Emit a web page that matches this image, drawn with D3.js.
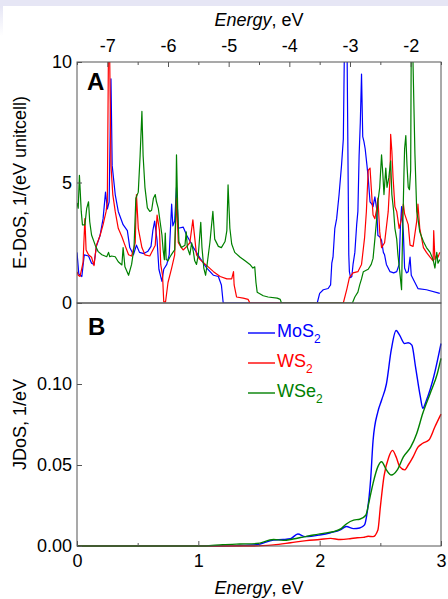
<!DOCTYPE html>
<html>
<head>
<meta charset="utf-8">
<script src="https://cdn.jsdelivr.net/npm/d3@7"></script>
<style>
  body { margin: 0; background: #fff; }
  svg { display: block; font-family: "Liberation Sans", Arial, sans-serif; }
</style>
</head>
<body>
<script>
// Panel A: electron DoS, [energy eV, 1/(eV unitcell)]
let mos2Dos = [
  [-7.5, 2.1], [-7.47, 1.2], [-7.42, 1.1], [-7.38, 2.0], [-7.31, 1.95], [-7.26, 1.65], [-7.22, 1.6],
  [-7.18, 2.35], [-7.12, 2.8], [-7.07, 3.5], [-7.03, 4.6], [-7.0, 3.9], [-6.97, 4.2], [-6.94, 9.3],
  [-6.92, 5.7], [-6.87, 4.5], [-6.82, 3.8], [-6.74, 3.25], [-6.67, 3.0], [-6.63, 2.3], [-6.57, 2.0],
  [-6.52, 2.4], [-6.47, 2.1], [-6.40, 2.05], [-6.33, 2.15], [-6.28, 2.35], [-6.25, 3.0], [-6.22, 3.4],
  [-6.18, 2.6], [-6.15, 1.4], [-6.10, 0.9], [-6.07, 1.4], [-6.02, 1.6], [-5.98, 2.0], [-5.94, 4.1],
  [-5.92, 3.2], [-5.89, 3.4], [-5.86, 4.8], [-5.83, 3.1], [-5.75, 3.15], [-5.69, 2.8], [-5.58, 2.3],
  [-5.47, 1.85], [-5.36, 1.45], [-5.25, 1.15], [-5.17, 1.1], [-5.12, 0.75], [-5.09, 0],
  [-3.54, 0], [-3.50, 0.4], [-3.44, 0.55], [-3.36, 0.6], [-3.32, 0.75], [-3.30, 1.65], [-3.28, 1.9],
  [-3.25, 3.1], [-3.22, 3.5], [-3.18, 4.5], [-3.14, 5.7], [-3.11, 6.8], [-3.10, 8.9], [-3.09, 11],
  [-3.05, 11], [-3.02, 2.0], [-3.01, 1.3], [-2.99, 1.05], [-2.97, 1.1], [-2.95, 1.6], [-2.92, 2.1],
  [-2.89, 3.25], [-2.87, 3.8], [-2.85, 6.1], [-2.83, 7.5], [-2.81, 9.5], [-2.79, 6.9], [-2.77, 6.7],
  [-2.75, 6.4], [-2.72, 5.7], [-2.70, 5.2], [-2.67, 4.2], [-2.64, 4.1], [-2.62, 4.0], [-2.59, 4.4],
  [-2.56, 3.9], [-2.54, 2.8], [-2.51, 2.75], [-2.48, 2.6], [-2.45, 2.1], [-2.43, 2.0], [-2.40, 1.6],
  [-2.34, 1.3], [-2.28, 1.25], [-2.23, 1.3], [-2.19, 1.6], [-2.17, 3.1], [-2.15, 4.0], [-2.12, 2.9],
  [-2.10, 1.45], [-2.07, 1.25], [-2.04, 1.3], [-2.01, 1.9], [-1.99, 1.15], [-1.93, 0.85],
  [-1.88, 0.6], [-1.74, 0.55], [-1.52, 0.4]
];
let ws2Dos = [
  [-7.5, 1.3], [-7.48, 1.15], [-7.45, 1.1], [-7.42, 1.45], [-7.40, 1.7], [-7.37, 3.5], [-7.35, 2.2],
  [-7.31, 2.0], [-7.26, 1.9], [-7.22, 1.55], [-7.18, 2.4], [-7.15, 2.6], [-7.12, 2.8], [-7.07, 3.25],
  [-7.02, 3.8], [-7.0, 4.2], [-6.98, 11], [-6.965, 11], [-6.94, 5.7], [-6.91, 4.5], [-6.87, 3.8],
  [-6.82, 3.1], [-6.76, 2.75], [-6.71, 2.4], [-6.65, 2.0], [-6.60, 1.95], [-6.54, 2.5], [-6.52, 4.5],
  [-6.49, 3.1], [-6.43, 2.3], [-6.38, 2.0], [-6.30, 1.95], [-6.21, 2.4], [-6.18, 3.65], [-6.14, 3.0],
  [-6.12, 1.6], [-6.09, 1.15], [-6.07, 0.05], [-6.04, 0.05], [-6.0, 0.85], [-5.94, 1.45], [-5.89, 2.0],
  [-5.86, 4.35], [-5.83, 2.5], [-5.78, 2.3], [-5.75, 2.2], [-5.69, 2.35], [-5.64, 2.5], [-5.59, 3.45],
  [-5.57, 2.95], [-5.53, 2.0], [-5.47, 1.8], [-5.36, 1.55], [-5.25, 1.3], [-5.14, 1.1], [-5.03, 1.0],
  [-4.95, 1.0], [-4.92, 1.3], [-4.91, 0.75], [-4.87, 0.25], [-4.76, 0.2], [-4.68, 0.15], [-4.65, 0],
  [-3.11, 0], [-3.05, 0.6], [-3.01, 1.05], [-2.95, 1.25], [-2.87, 1.3], [-2.81, 1.6], [-2.76, 2.7],
  [-2.73, 3.8], [-2.70, 5.5], [-2.67, 5.6], [-2.65, 4.8], [-2.62, 3.65], [-2.59, 3.5], [-2.56, 3.9],
  [-2.54, 4.35], [-2.51, 2.95], [-2.48, 2.3], [-2.43, 2.5], [-2.37, 3.8], [-2.34, 5.2], [-2.33, 7.0],
  [-2.31, 6.3], [-2.29, 5.2], [-2.26, 4.0], [-2.23, 3.8], [-2.19, 3.1], [-2.15, 3.5], [-2.12, 4.1],
  [-2.10, 3.7], [-2.04, 3.25], [-2.01, 2.4], [-1.96, 2.35], [-1.90, 3.4], [-1.88, 4.1], [-1.85, 3.1],
  [-1.79, 2.3], [-1.74, 2.1], [-1.68, 1.9], [-1.63, 1.75], [-1.62, 3.0], [-1.60, 1.8], [-1.57, 2.0],
  [-1.55, 1.9], [-1.52, 2.1]
];
let wse2Dos = [
  [-7.5, 4.15], [-7.48, 3.93], [-7.46, 5.3], [-7.43, 3.8], [-7.41, 3.24], [-7.37, 3.24], [-7.34, 3.93],
  [-7.31, 4.2], [-7.29, 3.37], [-7.26, 2.82], [-7.20, 2.4], [-7.15, 2.13], [-7.09, 2.0], [-7.01, 1.92],
  [-6.98, 2.1], [-6.96, 1.92], [-6.93, 1.95], [-6.87, 1.92], [-6.82, 1.71], [-6.76, 1.58], [-6.74, 2.3],
  [-6.71, 1.5], [-6.65, 1.15], [-6.60, 1.6], [-6.56, 2.3], [-6.53, 4.35], [-6.49, 4.6], [-6.46, 6.1],
  [-6.43, 7.95], [-6.41, 6.1], [-6.38, 4.8], [-6.34, 3.95], [-6.30, 3.8], [-6.27, 3.85], [-6.24, 4.35],
  [-6.21, 4.5], [-6.19, 4.2], [-6.16, 3.93], [-6.13, 3.37], [-6.10, 2.82], [-6.08, 2.2], [-6.06, 1.8],
  [-6.045, 2.9], [-6.03, 1.8], [-6.0, 1.75], [-5.97, 1.9], [-5.92, 2.1], [-5.89, 2.2], [-5.87, 4.0],
  [-5.86, 6.15], [-5.84, 3.9], [-5.82, 2.55], [-5.78, 2.3], [-5.72, 2.4], [-5.70, 2.95], [-5.68, 2.3],
  [-5.64, 2.0], [-5.61, 2.5], [-5.58, 2.1], [-5.56, 1.75], [-5.53, 1.6], [-5.50, 2.0], [-5.46, 3.35],
  [-5.44, 2.3], [-5.41, 1.45], [-5.38, 1.15], [-5.35, 1.7], [-5.31, 2.5], [-5.26, 3.8], [-5.23, 2.65],
  [-5.17, 2.35], [-5.12, 2.3], [-5.06, 2.55], [-5.03, 3.0], [-5.01, 4.9], [-4.98, 3.1], [-4.95, 2.45],
  [-4.90, 2.1], [-4.81, 1.9], [-4.73, 1.75], [-4.65, 1.6], [-4.60, 1.45], [-4.57, 1.5], [-4.55, 0.85],
  [-4.53, 0.45], [-4.43, 0.3], [-4.35, 0.25], [-4.20, 0.2], [-4.15, 0.15], [-4.13, 0],
  [-2.96, 0], [-2.92, 0.25], [-2.87, 0.45], [-2.84, 0.75], [-2.81, 1.0], [-2.78, 1.3], [-2.74, 1.35],
  [-2.70, 1.4], [-2.65, 1.6], [-2.62, 1.85], [-2.59, 2.65], [-2.56, 3.5], [-2.54, 4.2], [-2.51, 4.8],
  [-2.48, 6.15], [-2.46, 5.4], [-2.44, 4.5], [-2.41, 5.6], [-2.39, 4.8], [-2.36, 5.2], [-2.33, 5.9],
  [-2.31, 4.5], [-2.28, 3.8], [-2.26, 3.1], [-2.23, 2.65], [-2.21, 2.0], [-2.18, 1.3], [-2.15, 0.55],
  [-2.14, 2.0], [-2.11, 5.45], [-2.10, 6.4], [-2.08, 6.95], [-2.06, 5.7], [-2.04, 4.8], [-2.02, 4.7],
  [-2.00, 5.5], [-1.99, 11], [-1.97, 11], [-1.93, 6.2], [-1.90, 3.8], [-1.88, 3.5], [-1.85, 2.95],
  [-1.79, 2.55], [-1.74, 2.3], [-1.68, 2.1], [-1.63, 1.8], [-1.60, 1.45], [-1.57, 2.1], [-1.55, 1.65],
  [-1.52, 1.8]
];

// Panel B: joint DoS, [energy eV, 1/eV]
let mos2Jdos = [
  [0, 0], [1.2, 0], [1.34, 0.0003], [1.48, 0.0008], [1.62, 0.0037], [1.70, 0.004], [1.76, 0.0045],
  [1.82, 0.0074], [1.88, 0.0058], [1.93, 0.006], [2.0, 0.0068], [2.09, 0.0082], [2.17, 0.0099],
  [2.22, 0.012], [2.28, 0.0107], [2.33, 0.0111], [2.37, 0.013], [2.39, 0.020], [2.42, 0.041],
  [2.44, 0.065], [2.48, 0.083], [2.51, 0.090], [2.55, 0.100], [2.59, 0.121], [2.63, 0.133],
  [2.66, 0.130], [2.70, 0.125], [2.73, 0.1255], [2.76, 0.124], [2.79, 0.1106], [2.83, 0.092],
  [2.85, 0.085], [2.88, 0.090], [2.94, 0.1045], [3.0, 0.125]
];
let ws2Jdos = [
  [0, 0], [1.45, 0], [1.62, 0.0007], [1.76, 0.002], [1.89, 0.0033], [2.0, 0.004], [2.09, 0.0047],
  [2.17, 0.004], [2.25, 0.0045], [2.31, 0.0051], [2.36, 0.0053], [2.40, 0.006], [2.44, 0.0058],
  [2.48, 0.0099], [2.50, 0.024], [2.53, 0.043], [2.57, 0.055], [2.60, 0.059], [2.63, 0.055],
  [2.66, 0.049], [2.70, 0.047], [2.73, 0.050], [2.77, 0.055], [2.81, 0.061], [2.85, 0.0634],
  [2.90, 0.0654], [2.95, 0.0736], [3.0, 0.0814]
];
let wse2Jdos = [
  [0, 0], [1.05, 0], [1.2, 0.0008], [1.34, 0.0012], [1.48, 0.0015], [1.62, 0.004], [1.70, 0.0035],
  [1.78, 0.0043], [1.88, 0.0058], [1.95, 0.0068], [2.03, 0.0078], [2.11, 0.0088], [2.18, 0.0109],
  [2.22, 0.0136], [2.28, 0.016], [2.33, 0.0165], [2.38, 0.019], [2.41, 0.0284], [2.44, 0.0387],
  [2.48, 0.049], [2.51, 0.052], [2.55, 0.047], [2.59, 0.0438], [2.64, 0.047], [2.69, 0.055],
  [2.75, 0.061], [2.80, 0.0695], [2.85, 0.0819], [2.91, 0.094], [2.97, 0.1065], [3.0, 0.1158]
];

let formulas = ["MoS", "WS", "WSe"];
let topTicks = [-7, -6, -5, -4, -3, -2];
let topMinor = [-7.5, -6.5, -5.5, -4.5, -3.5, -2.5, -1.5];
let bottomTicks = [0, 1, 2, 3];
let bottomMinor = [0.5, 1.5, 2.5];
let dosTicks = [0, 5, 10];
let jdosTicks = [0, 0.05, 0.10];

let colors = ["#0000ff", "#ff0000", "#008000"];
let frameColor = "#555";

let width = 448, height = 599;
let left = 77, right = 441, topA = 62, midY = 303, bottomB = 546;

let svg = d3.select("body")
            .append("svg")
            .attr("width", width)
            .attr("height", height);

// slide background strip
let grad = svg.append("defs")
              .append("linearGradient")
              .attr("id", "fade")
              .attr("x1", 0).attr("y1", 0).attr("x2", 0).attr("y2", 1);
grad.append("stop").attr("offset", 0).attr("stop-color", "#e6e6f5");
grad.append("stop").attr("offset", 1).attr("stop-color", "#ffffff");
svg.append("rect")
   .attr("x", 0).attr("y", 0)
   .attr("width", width).attr("height", 6)
   .attr("fill", "#e6e6f5");
svg.append("rect")
   .attr("x", 0).attr("y", 6)
   .attr("width", 3).attr("height", 30)
   .attr("fill", "url(#fade)");

let xA = d3.scaleLinear().domain([-7.5, -1.5]).range([left, right]);
let yA = d3.scaleLinear().domain([0, 10]).range([midY, topA]);
let xB = d3.scaleLinear().domain([0, 3]).range([left, right]);
let yB = d3.scaleLinear().domain([0, 0.15]).range([bottomB, midY]);

svg.select("defs")
   .append("clipPath")
   .attr("id", "clipA")
   .append("rect")
   .attr("x", left).attr("y", topA)
   .attr("width", right - left).attr("height", midY - topA);

let lineA = d3.line()
              .x(d => xA(d[0]))
              .y(d => yA(d[1]));
let lineB = d3.line()
              .curve(d3.curveMonotoneX)
              .x(d => xB(d[0]))
              .y(d => yB(d[1]));

[mos2Dos, ws2Dos, wse2Dos].forEach(function(series, i) {
  svg.append("path")
     .datum(series)
     .attr("clip-path", "url(#clipA)")
     .attr("fill", "none")
     .attr("stroke", colors[i])
     .attr("stroke-width", 1.2)
     .attr("stroke-linejoin", "round")
     .attr("d", lineA);
});

[mos2Jdos, ws2Jdos, wse2Jdos].forEach(function(series, i) {
  svg.append("path")
     .datum(series)
     .attr("fill", "none")
     .attr("stroke", colors[i])
     .attr("stroke-width", 1.4)
     .attr("d", lineB);
});

// frames
svg.append("rect")
   .attr("x", left).attr("y", topA)
   .attr("width", right - left).attr("height", midY - topA)
   .attr("fill", "none").attr("stroke", frameColor);
svg.append("rect")
   .attr("x", left).attr("y", midY)
   .attr("width", right - left).attr("height", bottomB - midY)
   .attr("fill", "none").attr("stroke", frameColor);

let styleAxis = function(g) {
  g.select(".domain").remove();
  g.attr("font-size", 18).attr("font-family", null);
  g.selectAll("line").attr("stroke", frameColor);
  g.selectAll("text").attr("fill", "#000");
};

svg.append("g")
   .attr("transform", "translate(0," + topA + ")")
   .call(d3.axisTop(xA).tickValues(topMinor).tickSize(-3).tickFormat(""))
   .call(styleAxis);
svg.append("g")
   .attr("transform", "translate(0," + topA + ")")
   .call(d3.axisTop(xA).tickValues(topTicks).tickSize(-5).tickPadding(10).tickFormat(d => String(d)))
   .call(styleAxis);

svg.append("g")
   .attr("transform", "translate(0," + bottomB + ")")
   .call(d3.axisBottom(xB).tickValues(bottomMinor).tickSize(-3).tickFormat(""))
   .call(styleAxis);
svg.append("g")
   .attr("transform", "translate(0," + bottomB + ")")
   .call(d3.axisBottom(xB).tickValues(bottomTicks).tickSize(-5).tickPadding(8).tickFormat(d => String(d)))
   .call(styleAxis);

svg.append("g")
   .attr("transform", "translate(" + left + ",0)")
   .call(d3.axisLeft(yA).tickValues(dosTicks).tickSize(-5).tickPadding(5).tickFormat(d => String(d)))
   .call(styleAxis);
svg.append("g")
   .attr("transform", "translate(" + left + ",0)")
   .call(d3.axisLeft(yB).tickValues(jdosTicks).tickSize(-5).tickPadding(5).tickFormat(d3.format(".2f")))
   .call(styleAxis);

// axis titles
let energyTitle = function(y) {
  let t = svg.append("text")
             .attr("x", (left + right) / 2)
             .attr("y", y)
             .attr("text-anchor", "middle")
             .attr("font-size", 18);
  t.append("tspan").attr("font-style", "italic").text("Energy");
  t.append("tspan").text(", eV");
};
energyTitle(26);
energyTitle(594);

svg.append("text")
   .attr("transform", "translate(26," + (topA + midY) / 2 + ") rotate(-90)")
   .attr("text-anchor", "middle")
   .attr("font-size", 18)
   .text("E-DoS, 1/(eV unitcell)");
svg.append("text")
   .attr("transform", "translate(26," + (midY + bottomB) / 2 + ") rotate(-90)")
   .attr("text-anchor", "middle")
   .attr("font-size", 18)
   .text("JDoS, 1/eV");

// panel letters
svg.append("text")
   .attr("x", 87).attr("y", 90)
   .attr("font-size", 24).attr("font-weight", "bold")
   .text("A");
svg.append("text")
   .attr("x", 88).attr("y", 335)
   .attr("font-size", 24).attr("font-weight", "bold")
   .text("B");

// legend
formulas.forEach(function(name, i) {
  let ly = 333 + 30 * i;
  svg.append("line")
     .attr("x1", 248).attr("x2", 275)
     .attr("y1", ly).attr("y2", ly)
     .attr("stroke", colors[i])
     .attr("stroke-width", 1.4);
  let t = svg.append("text")
             .attr("x", 277).attr("y", ly + 4)
             .attr("font-size", 18)
             .attr("fill", colors[i]);
  t.append("tspan").text(name);
  t.append("tspan").attr("font-size", 12).attr("dy", 6).text("2");
});
</script>
</body>
</html>
